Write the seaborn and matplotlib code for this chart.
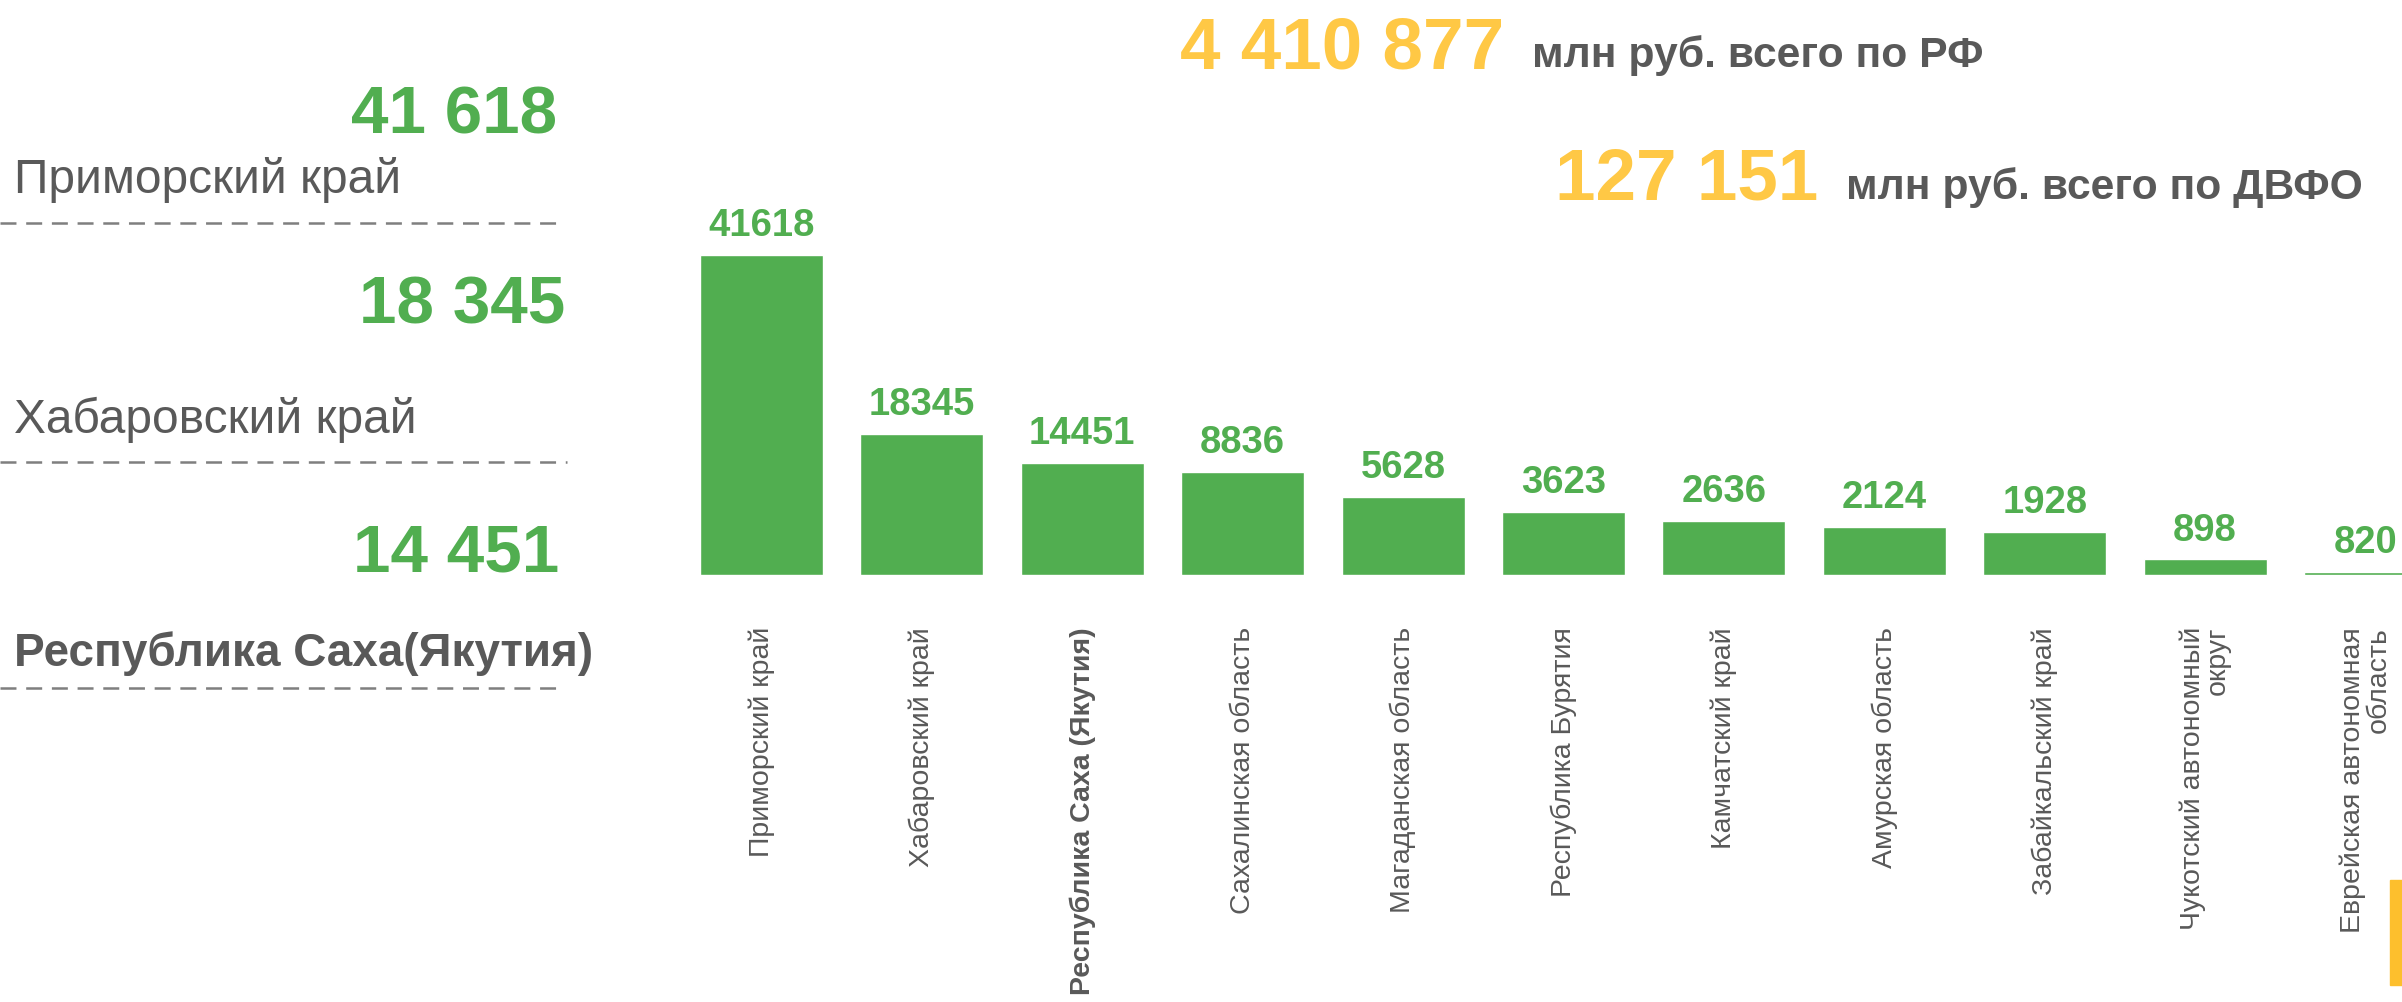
import matplotlib
matplotlib.use('Agg')
import matplotlib.pyplot as plt
import seaborn as sns
from matplotlib.patches import Rectangle

# Регионы ДВФО (подписи оси X)
regions = ['Приморский край', 'Хабаровский край', 'Республика Саха (Якутия)',
           'Сахалинская область', 'Магаданская область', 'Республика Бурятия',
           'Камчатский край', 'Амурская область', 'Забайкальский край',
           'Чукотский автономный\nокруг', 'Еврейская автономная\nобласть']
# Подписи над столбцами, млн руб.
values = [41618, 18345, 14451, 8836, 5628, 3623, 2636, 2124, 1928, 898, 820]
# Высота столбцов, как они нарисованы на исходном графике (в тех же единицах)
bar_heights = [41618, 18340, 14570, 13400, 10140, 8190, 7020, 6240, 5650, 2020, 450]

# Тройка лидеров слева
top_names = ['Приморский край', 'Хабаровский край', 'Республика Саха(Якутия)']
top_values = values[:3]

# Итоги
total_rf = 4410877
total_dvfo = 127151

GREEN = '#51AE50'
GRAY = '#595959'
YELLOW = '#FFC845'


def fmt(v):
    return f'{v:,}'.replace(',', ' ')


sns.set_theme(style='white')
plt.rcParams['font.family'] = ['Liberation Sans', 'DejaVu Sans']
plt.rcParams['lines.scale_dashes'] = False

W, H = 2402, 1003
fig = plt.figure(figsize=(W / 100, H / 100), dpi=100)

# фоновая ось в пикселях для текстов и линий
bg = fig.add_axes([0, 0, 1, 1])
bg.set_xlim(0, W)
bg.set_ylim(H, 0)
bg.axis('off')

# 1. Столбчатая диаграмма
ax = fig.add_axes([681.3 / W, (H - 576) / H, 11 * 160.4 / W, 346 / H])
sns.barplot(x=regions, y=bar_heights, color=GREEN, saturation=1, width=0.767, ax=ax)
ax.set_xlim(-0.5, 10.5)
ax.set_ylim(0, 45000)
ax.bar_label(ax.containers[0], labels=[str(v) for v in values], padding=8.5,
             fontsize=27.5, fontweight='bold', color=GREEN)

# 2. Подписи и оформление осей
ax.set_xlabel('')
ax.set_ylabel('')
ax.set_yticks([])
ax.tick_params(axis='x', length=0, pad=36.7, labelsize=20.5, labelcolor=GRAY)
ax.set_xticks(range(len(regions)))
ax.set_xticklabels(regions, rotation=90, ha='center', va='top')
for i, t in enumerate(ax.get_xticklabels()):
    t.set_multialignment('right')
    t.set_linespacing(0.95)
    if i == 2:
        t.set_fontweight('bold')
sns.despine(ax=ax, left=True, bottom=True)

# 3. Итоги сверху
bg.text(1180, 68, fmt(total_rf), fontsize=52.5, fontweight='bold', color=YELLOW, va='baseline')
bg.text(1532, 67, 'млн руб. всего по РФ', fontsize=30.7, fontweight='bold', color=GRAY, va='baseline')
bg.text(1555, 199, fmt(total_dvfo), fontsize=52.5, fontweight='bold', color=YELLOW, va='baseline')
bg.text(1846, 199, 'млн руб. всего по ДВФО', fontsize=30.7, fontweight='bold', color=GRAY, va='baseline')

# 4. Тройка лидеров слева
num_base = [133, 323, 571]
num_right = [557, 565, 559]
name_base = [193, 433, 666]
line_y = [224, 463, 689]
line_right = [563, 567, 563]
for i in range(3):
    bg.text(num_right[i], num_base[i], fmt(top_values[i]), fontsize=48.5, fontweight='bold',
            color=GREEN, ha='right', va='baseline')
    bold = i == 2
    bg.text(14, name_base[i], top_names[i], fontsize=33 if bold else 34.5,
            fontweight='bold' if bold else 'normal', color=GRAY, va='baseline')
    bg.plot([0, line_right[i]], [line_y[i], line_y[i]], color='#7F7F7F', lw=1.8, dashes=(11.5, 7))

# жёлтая полоска в правом нижнем углу
bg.add_patch(Rectangle((2390, 881), 12, 105, color='#FDBF2D'))

fig.savefig('out.png', dpi=100)
